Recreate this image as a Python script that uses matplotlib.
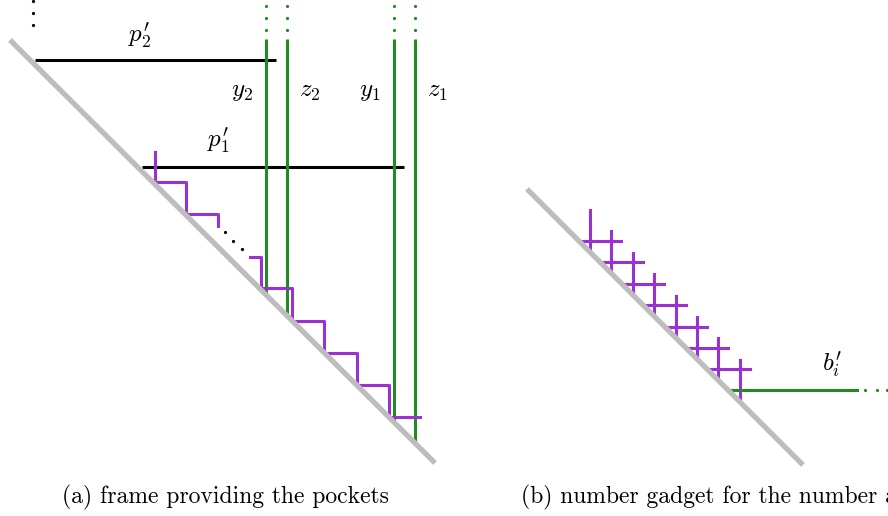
import matplotlib
matplotlib.use('Agg')
import matplotlib.pyplot as plt
import numpy as np

plt.rcParams['mathtext.fontset'] = 'cm'

# ---- geometry (figure pixels, y grows downward) ----
# (a) frame
diag_a = [(10, 40), (435, 463)]
p_names = [r"$p^{\prime}_2$", r"$p^{\prime}_1$"]
p_y = [60, 167]
p_x0 = [35, 142]
p_x1 = [276, 404]
p_label_xy = [(140, 36), (218, 141)]
green_x = [266, 287, 394, 415]
green_top = 39
green_names = ['$y_2$', '$z_2$', '$y_1$', '$z_1$']
green_label_xy = [(242, 91), (310, 91), (370, 91), (437, 91)]
stair_upper = [(155, 152), (155, 182), (186, 182), (186, 214), (218, 214), (218, 226)]
stair_lower = [(250, 257), (261, 257), (261, 288), (292, 288), (292, 321), (324, 321),
               (324, 353), (357, 353), (357, 385), (389, 385), (389, 417), (420, 417)]
ell_a = [(225, 232), (233, 241), (242, 249)]

# (b) number gadget
diag_b = [(527, 189), (803, 465)]
n_cross = 8
cross_x0 = 590
cross_top0 = 210
cross_step = 21.4
cross_over = 10
bi_y = 390
bi_x1 = 857
bi_dots = [865, 877, 887]

captions = ['(a) frame providing the pockets', '(b) number gadget for the number a']

GRAY = '#bdbdbd'
GREEN = '#228b22'
PURPLE = '#9a32d2'


def diag_y(diag, x):
    (xa, ya), (xb, yb) = diag
    return ya + (x - xa) * (yb - ya) / (xb - xa)


def diag_x(diag, y):
    (xa, ya), (xb, yb) = diag
    return xa + (y - ya) * (xb - xa) / (yb - ya)


fig = plt.figure(figsize=(8.88, 5.16), dpi=100)
ax = fig.add_axes([0, 0, 1, 1])
ax.set_xlim(0, 888)
ax.set_ylim(516, 0)
ax.axis('off')

# ---- panel (a) ----
ax.plot([33, 33, 33], [1, 13, 25], 'o', color='black', ms=1.3)
for y, x0, x1, name, (lx, ly) in zip(p_y, p_x0, p_x1, p_names, p_label_xy):
    ax.plot([x0, x1], [y, y], color='black', lw=2.2, solid_capstyle='butt', zorder=2)
    ax.text(lx, ly, name, fontsize=18, ha='center', va='center')

for x, name, (lx, ly) in zip(green_x, green_names, green_label_xy):
    ax.plot([x, x], [green_top, diag_y(diag_a, x)], color=GREEN, lw=2.2,
            solid_capstyle='butt', zorder=3)
    ax.plot([x, x, x], [6, 18, 30], 'o', color=GREEN, ms=1.3)
    ax.text(lx, ly, name, fontsize=18, ha='center', va='center')

for pts in (stair_upper, stair_lower):
    xs, ys = zip(*pts)
    ax.plot(xs, ys, color=PURPLE, lw=2.2, zorder=3)
xs, ys = zip(*ell_a)
ax.plot(xs, ys, 'o', color='black', ms=1.3)

(x0, y0), (x1, y1) = diag_a
ax.plot([x0, x1], [y0, y1], color=GRAY, lw=3.8, solid_capstyle='butt', zorder=4)

# ---- panel (b) ----
for j in range(n_cross):
    x = cross_x0 + cross_step * j
    top = cross_top0 + cross_step * j
    ax.plot([x, x], [top, diag_y(diag_b, x)], color=PURPLE, lw=2.2, zorder=3)
    if j < n_cross - 1:
        y = top + 31
        ax.plot([diag_x(diag_b, y), x + cross_step + cross_over], [y, y],
                color=PURPLE, lw=2.2, zorder=3)

ax.plot([diag_x(diag_b, bi_y), bi_x1], [bi_y, bi_y], color=GREEN, lw=2.2, zorder=3)
ax.plot(bi_dots, [bi_y] * len(bi_dots), 'o', color=GREEN, ms=1.3)
ax.text(832, 365, r"$b^{\prime}_i$", fontsize=18, ha='center', va='center')

(x0, y0), (x1, y1) = diag_b
ax.plot([x0, x1], [y0, y1], color=GRAY, lw=3.8, solid_capstyle='butt', zorder=4)

# ---- captions ----
ax.text(225.5, 497, captions[0], fontsize=17, family='cmr10', ha='center', va='center')
ax.text(521, 497, captions[1], fontsize=17, family='cmr10', ha='left', va='center')

fig.savefig('out.png', dpi=100)
